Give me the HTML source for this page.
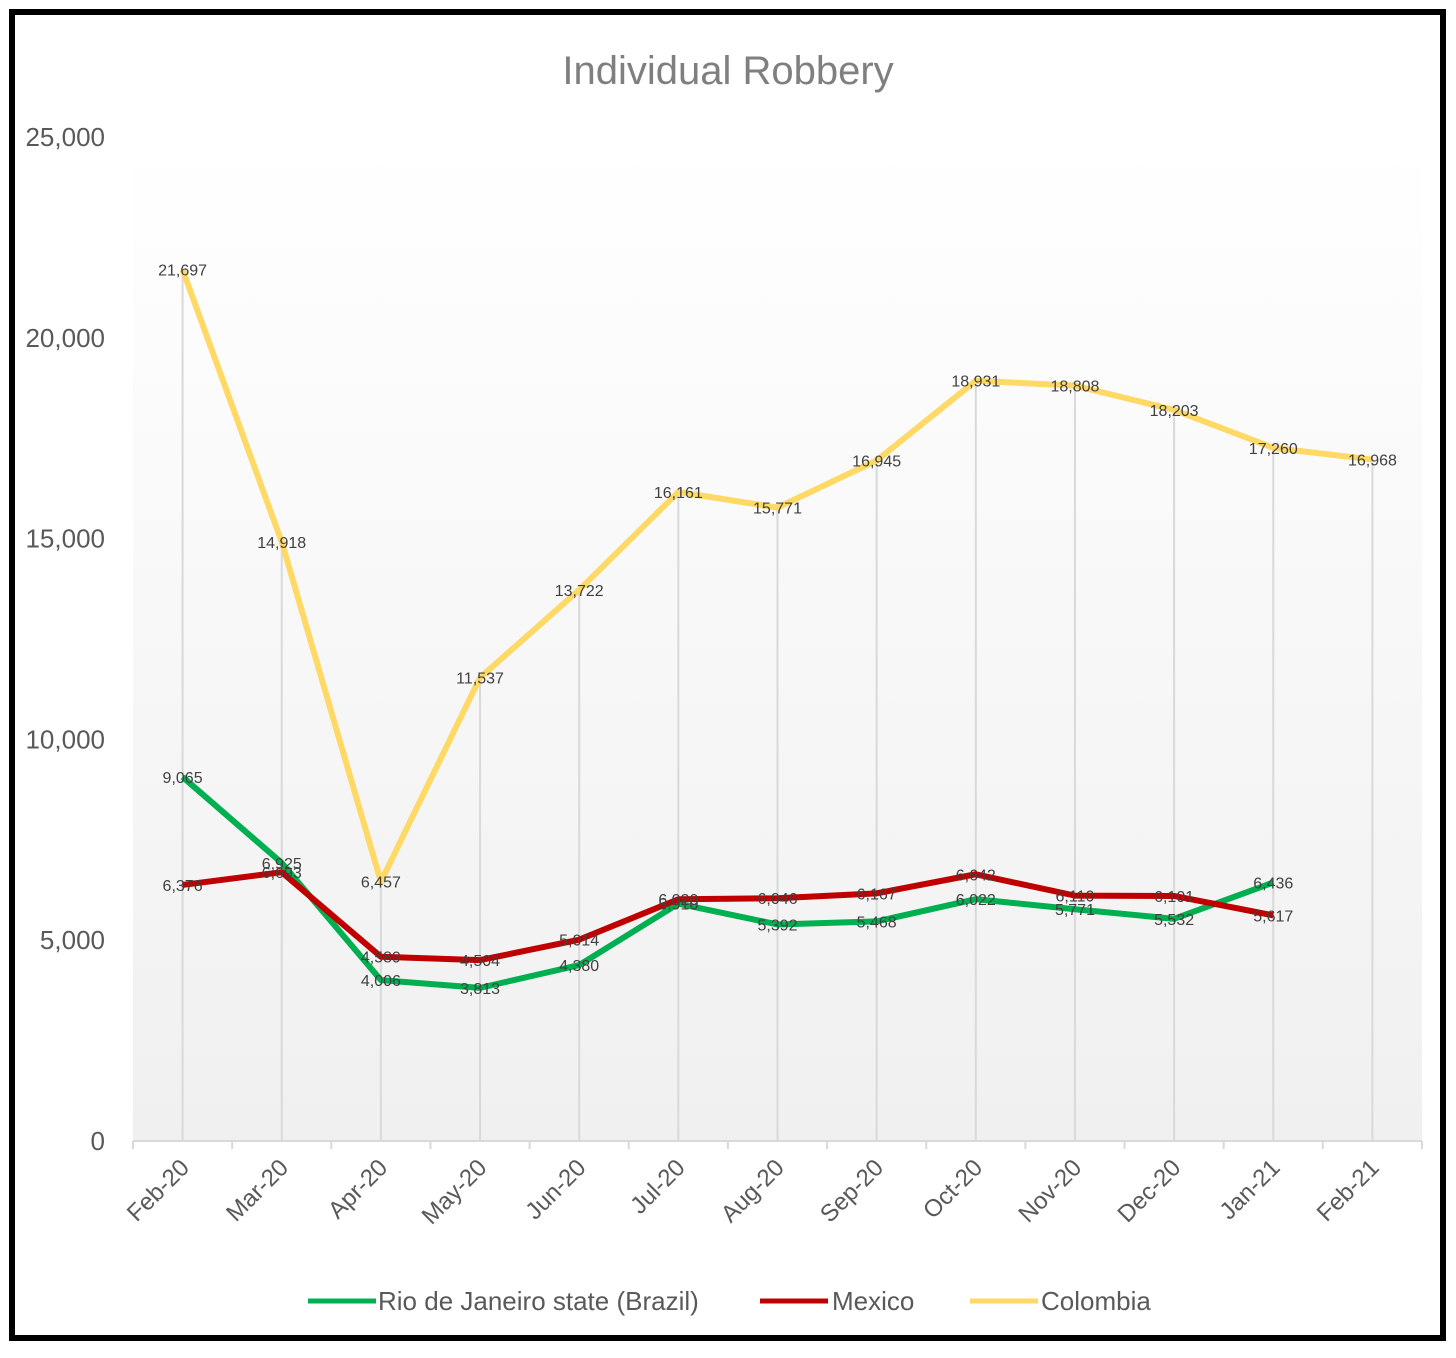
<!DOCTYPE html>
<html><head><meta charset="utf-8"><style>
body{margin:0;background:#fff;}
svg{display:block;font-family:"Liberation Sans",sans-serif;}
</style></head><body>
<svg id="c" width="1456" height="1358">
<defs><linearGradient id="g" x1="0" y1="0" x2="0" y2="1"><stop offset="0" stop-color="#ffffff"/><stop offset="1" stop-color="#f0f0f0"/></linearGradient></defs>
<rect x="0" y="0" width="1456" height="1358" fill="#fff"/>
<rect x="12" y="12" width="1431" height="1326" fill="none" stroke="#000" stroke-width="6"/>
<rect x="133" y="137" width="1289" height="1004" fill="url(#g)"/>
<text x="728" y="84" text-anchor="middle" font-size="40" font-weight="500" fill="#7f7f7f">Individual Robbery</text>
<g id="layer"></g>
<g font-size="26" fill="#595959">
<line x1="308" y1="1301" x2="376" y2="1301" stroke="#00b050" stroke-width="5"/>
<text x="378" y="1310">Rio de Janeiro state (Brazil)</text>
<line x1="760" y1="1301" x2="828" y2="1301" stroke="#c00000" stroke-width="5"/>
<text x="832" y="1310">Mexico</text>
<line x1="970" y1="1301" x2="1038" y2="1301" stroke="#ffd966" stroke-width="5"/>
<text x="1041" y="1310">Colombia</text>
</g>
</svg>
<script>
const categories=["Feb-20","Mar-20","Apr-20","May-20","Jun-20","Jul-20","Aug-20","Sep-20","Oct-20","Nov-20","Dec-20","Jan-21","Feb-21"];
const rioValues=[9065,6925,4006,3813,4380,5910,5392,5468,6022,5771,5532,6436,null];
const mexicoValues=[6376,6693,4589,4504,5014,6020,6046,6167,6642,6110,6101,5617,null];
const colombiaValues=[21697,14918,6457,11537,13722,16161,15771,16945,18931,18808,18203,17260,16968];
const yTicks=[0,5000,10000,15000,20000,25000];
const NS="http://www.w3.org/2000/svg";
const L=document.getElementById('layer');
const x0=133,x1=1422,yb=1141,yt=137,ymax=25000;
const step=(x1-x0)/categories.length;
const xs=i=>x0+step*(i+0.5);
const ys=v=>yb-(v/ymax)*(yb-yt);
function mk(t,a){const e=document.createElementNS(NS,t);for(const k in a)e.setAttribute(k,a[k]);L.appendChild(e);return e;}
const fmt=v=>v.toLocaleString('en-US');
categories.forEach((c,i)=>{
 const mx=Math.max(...[rioValues[i],mexicoValues[i],colombiaValues[i]].filter(v=>v!=null));
 const e=mk('line',{x1:xs(i),x2:xs(i),y1:yb,y2:ys(mx),stroke:'#d9d9d9','stroke-width':2});
 
 
});
const ax=mk('line',{x1:x0,x2:x1,y1:yb,y2:yb,stroke:'#d9d9d9','stroke-width':2});


for(let i=0;i<=categories.length;i++){
 const t=mk('line',{x1:x0+step*i,x2:x0+step*i,y1:yb,y2:yb+8,stroke:'#d9d9d9','stroke-width':2});
 
 
}
yTicks.forEach(v=>{
 const t=mk('text',{x:105,y:ys(v)+9,'text-anchor':'end','font-size':26,fill:'#595959'});
 t.textContent=fmt(v);
 
 
});
categories.forEach((c,i)=>{
 const x=xs(i)+8,y=yb+28;
 const t=mk('text',{x:x,y:y,'text-anchor':'end','font-size':24,fill:'#595959',transform:`rotate(-45 ${x} ${y})`});
 t.textContent=c;
 
 
});
function series(vals,color,name){
 let d='';vals.forEach((v,i)=>{if(v==null)return;d+=(d?'L':'M')+xs(i)+','+ys(v);});
 const p=mk('path',{d:d,fill:'none',stroke:color,'stroke-width':6,'stroke-linejoin':'round'});
 
 
}
function labels(vals,name){
 vals.forEach((v,i)=>{if(v==null)return;
  const t=mk('text',{x:xs(i),y:ys(v)+6,'text-anchor':'middle','font-size':16,fill:'#404040'});
  t.textContent=fmt(v);
  
  
 });
}
series(colombiaValues,'#ffd966','colombia');
series(rioValues,'#00b050','rio');
series(mexicoValues,'#c00000','mexico');
labels(colombiaValues,'colombia');
labels(rioValues,'rio');
labels(mexicoValues,'mexico');
</script>
</body></html>
